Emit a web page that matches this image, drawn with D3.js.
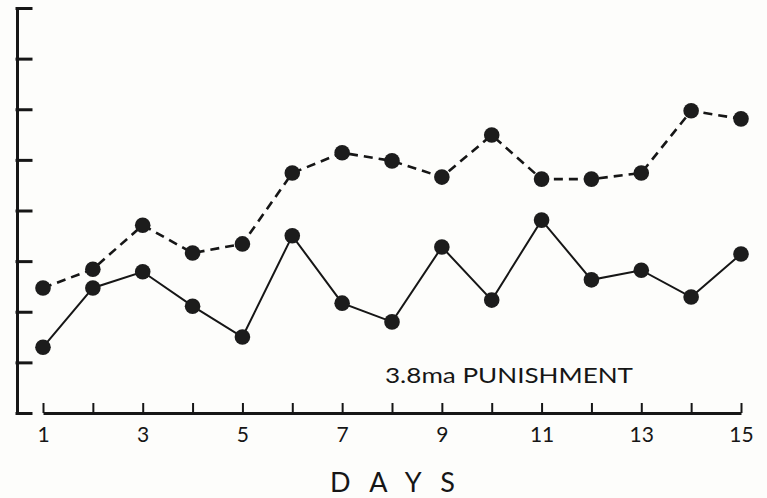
<!DOCTYPE html>
<html>
<head>
<meta charset="utf-8">
<script src="https://cdn.jsdelivr.net/npm/d3@7"></script>
<style>
  html, body { margin: 0; padding: 0; background: #fdfdfb; }
  svg { display: block; }
  text { font-family: "Lato", "DejaVu Sans", sans-serif; fill: #161616; }
</style>
</head>
<body>
<svg id="chart" width="767" height="498"></svg>
<script>
// Days of the session
const days = d3.range(1, 16);
// Labelled days along the horizontal axis
const dayLabels = [1, 3, 5, 7, 9, 11, 13, 15];
// Response measure per day (arbitrary units, 0–8 scale)
const solidSeries = [1.30, 2.47, 2.79, 2.11, 1.50, 3.50, 2.17, 1.80, 3.28, 2.23, 3.81, 2.63, 2.82, 2.29, 3.14];
const dashedSeries = [2.47, 2.84, 3.71, 3.16, 3.34, 4.74, 5.14, 4.98, 4.66, 5.49, 4.62, 4.62, 4.74, 5.97, 5.81];
// Unlabelled tick positions on the vertical axis
const yTicks = [0, 1, 2, 3, 4, 5, 6, 7, 8];

const ink = "#161616";
const svg = d3.select("#chart");

const x = d3.scaleLinear().domain([1, 15]).range([43, 741]);
const y = d3.scaleLinear().domain([0, 8]).range([413, 8]);

// Vertical axis: ticks point inward, no labels
const yAxis = svg.append("g")
  .attr("transform", "translate(17,0)")
  .call(d3.axisRight(y).tickValues(yTicks).tickSize(14).tickSizeOuter(0).tickFormat(""));
yAxis.selectAll("path, line").attr("stroke", ink).attr("stroke-width", 3).attr("stroke-linecap", "square");

// Horizontal axis: short upward ticks for each day
const xAxis = svg.append("g")
  .attr("transform", "translate(0,413)")
  .call(d3.axisTop(x).tickValues(days).tickSize(10).tickSizeOuter(0).tickFormat(""));
xAxis.select("path").attr("stroke", ink).attr("stroke-width", 3);
xAxis.selectAll("line").attr("stroke", ink).attr("stroke-width", 2);

// Day labels under the axis
const xLabels = svg.append("g")
  .attr("transform", "translate(0,413)")
  .call(d3.axisBottom(x).tickValues(dayLabels).tickSize(0).tickPadding(14).tickFormat(d3.format("d")));
xLabels.select("path").remove();
xLabels.selectAll("text")
  .attr("font-size", 21)
  .attr("fill", ink)
  .style("font-family", "Lato, 'DejaVu Sans', sans-serif");

const line = d3.line().x((d, i) => x(days[i])).y(d => y(d));

// Dashed series
svg.append("path")
  .datum(dashedSeries)
  .attr("d", line)
  .attr("fill", "none")
  .attr("stroke", ink)
  .attr("stroke-width", 2.6)
  .attr("stroke-dasharray", "9,6");

// Solid series
svg.append("path")
  .datum(solidSeries)
  .attr("d", line)
  .attr("fill", "none")
  .attr("stroke", ink)
  .attr("stroke-width", 2);

// Point markers
[dashedSeries, solidSeries].forEach(series => {
  svg.append("g").selectAll("circle")
    .data(series)
    .join("circle")
    .attr("cx", (d, i) => x(days[i]))
    .attr("cy", d => y(d))
    .attr("r", 7.8)
    .attr("fill", "#1c1c1c");
});

// Condition label
svg.append("text")
  .attr("x", 385)
  .attr("y", 383)
  .attr("font-size", 22)
  .attr("textLength", 248)
  .attr("lengthAdjust", "spacingAndGlyphs")
  .text("3.8ma PUNISHMENT");

// Axis title
svg.append("text")
  .attr("x", 330)
  .attr("y", 492)
  .attr("font-size", 27)
  .attr("textLength", 125)
  .attr("lengthAdjust", "spacing")
  .text("DAYS");
</script>
</body>
</html>
